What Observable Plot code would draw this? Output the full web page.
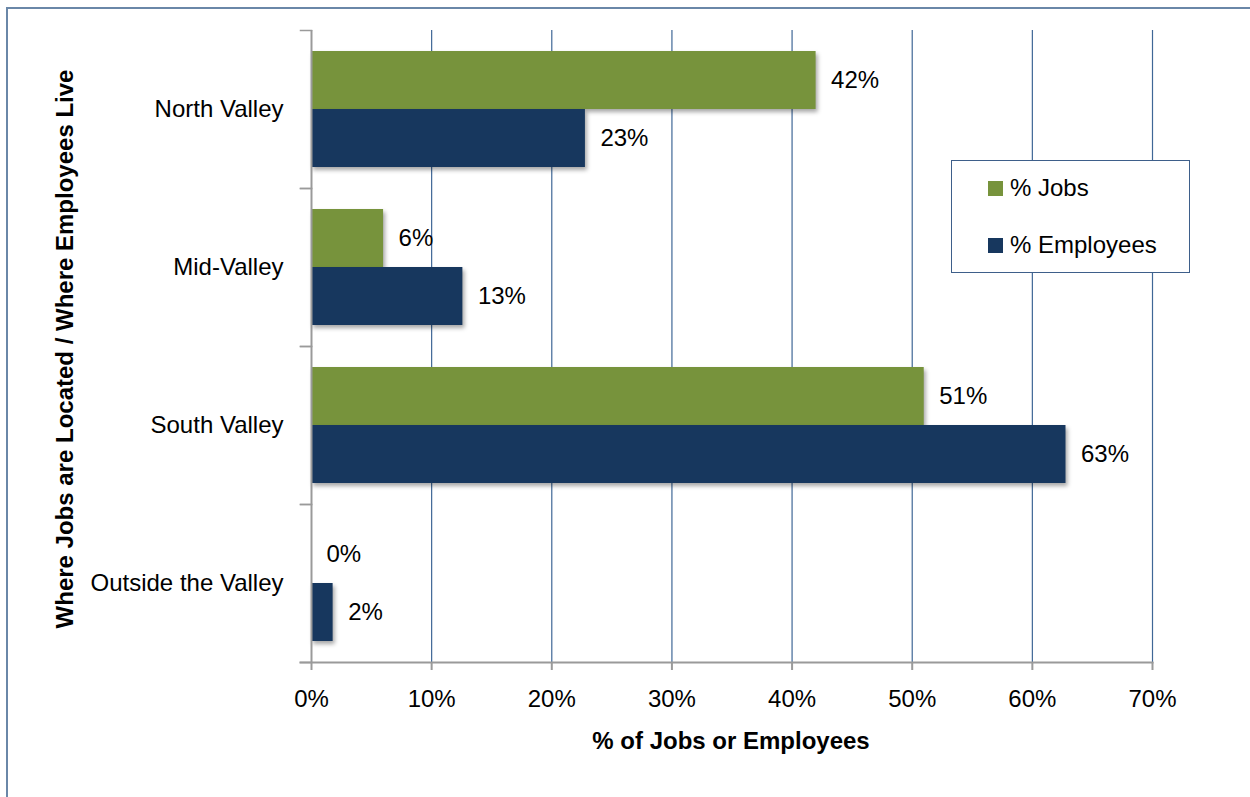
<!DOCTYPE html>
<html>
<head>
<meta charset="utf-8">
<script src="https://cdn.jsdelivr.net/npm/d3@7"></script>
<script src="https://cdn.jsdelivr.net/npm/@observablehq/plot@0.6"></script>
<style>
  html, body { margin: 0; padding: 0; background: #fff; overflow: hidden; }
  body { width: 1250px; height: 797px; position: relative; font-family: "Liberation Sans", Arial, sans-serif; }
  #frame { position: absolute; left: 6px; top: 7px; width: 1300px; height: 900px; border-left: 2px solid #6a87a8; border-top: 2px solid #6a87a8; }
  #chart { position: absolute; left: 0; top: 0; }
  #chart g[aria-label="bar"] rect { filter: drop-shadow(2px 3px 2px rgba(0,0,0,0.35)); }
  .title { position: absolute; font-weight: bold; font-size: 24px; color: #000; white-space: nowrap; }
  #xtitle { left: 731px; top: 741px; transform: translate(-50%, -50%); }
  #ytitle { left: 65px; top: 349px; transform: translate(-50%, -50%) rotate(-90deg); }
  #legend { position: absolute; left: 951px; top: 160px; width: 237px; height: 111px; border: 1.5px solid #3e5f8a; background: #fff; }
  .item { position: absolute; left: 36px; font-size: 24px; display: flex; align-items: center; white-space: nowrap; }
  .sw { width: 15px; height: 15px; margin-right: 7px; }
</style>
</head>
<body>
<div id="frame"></div>
<div id="chart"></div>
<div id="xtitle" class="title"></div>
<div id="ytitle" class="title"></div>
<div id="legend"></div>
<script>
const categories = ["North Valley", "Mid-Valley", "South Valley", "Outside the Valley"];
const seriesNames = ["% Jobs", "% Employees"];
const seriesColors = ["#77933C", "#17375E"];
const jobsPct = [42, 6, 51, 0];
const employeesPct = [22.8, 12.6, 62.8, 1.8];
const jobsLabels = ["42%", "6%", "51%", "0%"];
const employeesLabels = ["23%", "13%", "63%", "2%"];
const xTicks = [0, 10, 20, 30, 40, 50, 60, 70];
const xTitle = "% of Jobs or Employees";
const yTitle = "Where Jobs are Located / Where Employees Live";

const rows = [];
categories.forEach((c, i) => {
  rows.push({category: c, series: seriesNames[0], value: jobsPct[i], label: jobsLabels[i]});
  rows.push({category: c, series: seriesNames[1], value: employeesPct[i], label: employeesLabels[i]});
});

const W = 1250, H = 797, mL = 311, mR = 98, mT = 30, mB = 135;
const plotW = W - mL - mR;
const axisGray = "#9a9a9a";

const chart = Plot.plot({
  width: W, height: H,
  marginLeft: mL, marginRight: mR, marginTop: mT, marginBottom: mB,
  style: {fontFamily: "'Liberation Sans', Arial, sans-serif", fontSize: "24px", color: "#000", background: "transparent", overflow: "visible"},
  x: {domain: [xTicks[0], xTicks[xTicks.length - 1]]},
  y: {domain: seriesNames, paddingInner: 0, paddingOuter: 0.362, axis: null},
  fy: {domain: categories, padding: 0},
  color: {domain: seriesNames, range: seriesColors},
  marks: [
    Plot.gridX(xTicks.filter(d => d > 0), {stroke: "#3F6796", strokeOpacity: 1, strokeWidth: 1.2}),
    Plot.frame({anchor: "top", insetLeft: -11, insetRight: plotW, stroke: axisGray, strokeWidth: 1.5}),
    Plot.frame({anchor: "bottom", insetLeft: -11, insetRight: plotW, stroke: axisGray, strokeWidth: 1.5}),
    Plot.frame({anchor: "bottom", facet: "super", insetLeft: -11, stroke: axisGray, strokeWidth: 2}),
    Plot.barX(rows, {x: "value", y: "series", fy: "category", fill: "series"}),
    Plot.ruleX([0], {stroke: axisGray, strokeWidth: 2}),
    Plot.text(rows, {x: "value", y: "series", fy: "category", text: "label", dx: 15, textAnchor: "start", fontSize: 24, fill: "#000"}),
    Plot.axisX(xTicks, {tickFormat: d => d + "%", tickSize: 8, tickPadding: 19, stroke: axisGray, strokeWidth: 2, fill: "#000", fontSize: 24, label: null}),
    Plot.axisFy({anchor: "left", tickSize: 0, tickPadding: 28, fontSize: 24, fill: "#000", label: null})
  ]
});
document.getElementById("chart").appendChild(chart);

document.getElementById("xtitle").textContent = xTitle;
document.getElementById("ytitle").textContent = yTitle;

const legend = document.getElementById("legend");
const tops = [13, 70];
seriesNames.forEach((s, i) => {
  const it = document.createElement("div");
  it.className = "item";
  it.style.top = tops[i] + "px";
  const sw = document.createElement("div");
  sw.className = "sw";
  sw.style.background = seriesColors[i];
  const tx = document.createElement("span");
  tx.textContent = s;
  it.appendChild(sw); it.appendChild(tx);
  legend.appendChild(it);
});
</script>
</body>
</html>
